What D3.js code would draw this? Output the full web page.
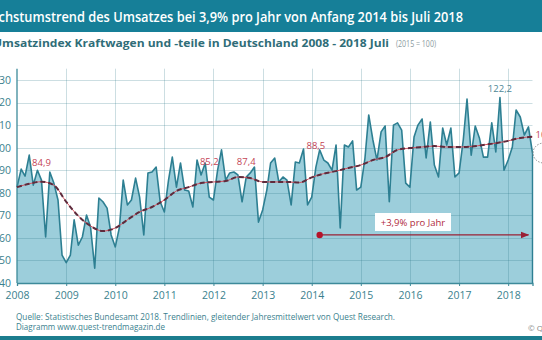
<!DOCTYPE html>
<html>
<head>
<meta charset="utf-8">
<script src="https://cdn.jsdelivr.net/npm/d3@7"></script>
<style>
  body { margin: 0; background: #fff; }
  svg { display: block; font-family: "Open Sans", sans-serif; }
</style>
</head>
<body>
<svg id="chart" width="542" height="340"></svg>
<script>
// Umsatzindex Kraftwagen und -teile, monthly, Jan 2008 - Jul 2018 (2015 = 100)
const startMonth = new Date(2008, 0, 1);
const umsatz = [
  82.5, 90.5, 87.4, 96.7, 83.4, 90.0, 85.6, 60.4, 89.2, 84.3, 76.8, 52.4,   // 2008
  49.0, 52.4, 68.0, 56.8, 60.4, 70.1, 64.8, 46.6, 77.7, 76.0, 73.2, 61.3,   // 2009
  56.0, 64.8, 85.6, 74.6, 76.8, 86.5, 78.1, 61.3, 88.8, 89.2, 91.4, 76.0,   // 2010
  71.5, 85.6, 95.8, 82.5, 93.2, 81.2, 80.8, 73.7, 94.5, 87.9, 93.2, 78.1,   // 2011
  76.8, 90.0, 99.0, 85.6, 88.8, 89.2, 87.9, 76.0, 87.0, 88.8, 91.4, 67.0,   // 2012
  72.4, 81.2, 93.2, 95.4, 84.8, 87.0, 85.6, 74.6, 93.6, 93.2, 99.4, 74.6,   // 2013
  78.1, 91.4, 99.0, 94.5, 93.2, 90.0, 101.2, 64.4, 101.2, 100.3, 103.0, 81.2, // 2014
  82.5, 95.4, 114.5, 103.4, 94.5, 107.0, 109.6, 76.0, 110.0, 111.0, 107.8, 84.3, // 2015
  82.5, 104.7, 110.0, 112.7, 95.4, 111.4, 92.3, 87.0, 108.7, 101.2, 108.7, 87.0, // 2016
  88.8, 103.4, 121.5, 96.7, 109.6, 104.3, 95.8, 95.8, 111.0, 98.1, 122.2, 90.0,  // 2017
  94.5, 100.3, 116.7, 113.6, 105.6, 109.2, 97.6                                  // 2018
];

// gleitender Jahresmittelwert
const trend = [
  82.5, 84.0, 84.9, 83.4,
  76.0, 69.7, 65.3, 63.0,
  64.4, 68.0, 71.5, 73.7,
  76.8, 80.8, 82.5, 84.3,
  84.8, 85.2, 87.0, 86.5,
  84.8, 84.8, 84.8, 84.5,
  86.8, 88.5, 89.6, 91.0,
  92.3, 94.5, 95.8, 99.0,
  99.8, 100.3, 100.7, 100.3,
  100.3, 100.5, 101.2, 102.0,
  103.0, 104.3, 104.8
];

const yTicks = [40, 50, 60, 70, 80, 90, 100, 110, 120, 130];
const yearTicks = d3.range(2008, 2019);

// trend labels: [year, month index, value, text]
const trendLabels = [
  [2008, 6, 84.9, "84,9"],
  [2011, 11, 85.2, "85,2"],
  [2012, 8, 87.4, "87,4"],
  [2014, 1, 88.5, "88,5"]
];
const peakLabel = [2017, 10, 122.2, "122,2"];
const lastLabel = [2018, 6, 104.8, "104,8"];
const growthArrow = { from: [2014, 2], to: [2018, 5], value: 61.3, text: "+3,9% pro Jahr" };

const svg = d3.select("#chart");
const plotLeft = 17, plotRight = 532.5, plotTop = 68.7, plotBottom = 283;

const x = d3.scaleTime()
  .domain([startMonth, new Date(2018, 6, 1)])
  .range([plotLeft, plotRight]);
const y = d3.scaleLinear()
  .domain([40, 135])
  .range([plotBottom, plotTop]);

const data = umsatz.map((v, i) => ({ date: new Date(2008, i, 1), value: v }));
const trendData = trend.map((v, i) => ({ date: new Date(2008, i * 3, 1), value: v }));

// header
svg.append("rect").attr("x", 0).attr("y", 0).attr("width", 542).attr("height", 32)
  .attr("fill", "#167f98");
svg.append("text")
  .attr("x", -21).attr("y", 22)
  .attr("textLength", 484)
  .attr("lengthAdjust", "spacingAndGlyphs")
  .style("font-size", "14.5px")
  .style("font-weight", "600")
  .style("fill", "#fff")
  .text("Wachstumstrend des Umsatzes bei 3,9% pro Jahr von Anfang 2014 bis Juli 2018");

svg.append("text")
  .attr("x", -7).attr("y", 47)
  .attr("textLength", 396)
  .attr("lengthAdjust", "spacingAndGlyphs")
  .style("font-size", "10px")
  .style("font-weight", "700")
  .style("fill", "#2f6d78")
  .text("Umsatzindex Kraftwagen und -teile in Deutschland  2008 - 2018 Juli");
svg.append("text")
  .attr("x", 396).attr("y", 47)
  .attr("textLength", 40)
  .attr("lengthAdjust", "spacingAndGlyphs")
  .style("font-size", "9.5px")
  .style("fill", "#8a9a9e")
  .text("(2015 = 100)");

// area
svg.append("path")
  .datum(data)
  .attr("fill", "#9ccedb")
  .attr("d", d3.area().x(d => x(d.date)).y0(y(40)).y1(d => y(d.value)));

// grid
const grid = svg.append("g").attr("stroke", "rgba(40,115,135,0.24)").attr("stroke-width", 1);
grid.selectAll(".h").data(yTicks.slice(1)).enter().append("line")
  .attr("x1", plotLeft).attr("x2", plotRight)
  .attr("y1", d => Math.round(y(d)) + 0.5).attr("y2", d => Math.round(y(d)) + 0.5);
grid.selectAll(".v").data(yearTicks.slice(1)).enter().append("line")
  .attr("x1", d => Math.round(x(new Date(d, 0, 1))) + 0.5)
  .attr("x2", d => Math.round(x(new Date(d, 0, 1))) + 0.5)
  .attr("y1", plotTop).attr("y2", plotBottom);

// line
svg.append("path")
  .datum(data)
  .attr("fill", "none")
  .attr("stroke", "#2d7f92")
  .attr("stroke-width", 1.6)
  .attr("stroke-linejoin", "round")
  .attr("d", d3.line().x(d => x(d.date)).y(d => y(d.value)));
const last = data[data.length - 1];
svg.append("line")
  .attr("x1", x(last.date)).attr("x2", x(last.date))
  .attr("y1", y(last.value)).attr("y2", plotBottom)
  .attr("stroke", "#2d7f92").attr("stroke-width", 1.4);

// axes
const yAxis = svg.append("g")
  .attr("transform", `translate(${plotLeft},0)`)
  .call(d3.axisLeft(y).tickValues(yTicks).tickSize(0).tickPadding(6));
const xAxis = svg.append("g")
  .attr("transform", `translate(0,${plotBottom})`)
  .call(d3.axisBottom(x).tickValues(yearTicks.map(t => new Date(t, 0, 1)))
    .tickFormat(d3.timeFormat("%Y")).tickSize(3).tickPadding(6));
[yAxis, xAxis].forEach(a => {
  a.select(".domain").attr("stroke", "#3d8a9a").attr("stroke-width", 1.3);
  a.selectAll(".tick line").attr("stroke", "#3d8a9a");
  a.selectAll(".tick text")
    .style("font-size", "10.5px")
    .style("font-family", "'Open Sans', sans-serif")
    .attr("fill", "#3b7f8e");
});
yAxis.select(".domain").attr("d", `M0,${plotTop}V${plotBottom}`);

// trend line
const trendLine = d3.line().x(d => x(d.date)).y(d => y(d.value)).curve(d3.curveMonotoneX);
svg.append("path").datum(trendData)
  .attr("fill", "none").attr("stroke", "#d8505e").attr("stroke-width", 1)
  .attr("d", trendLine);
svg.append("path").datum(trendData)
  .attr("fill", "none").attr("stroke", "#5e2b3c").attr("stroke-width", 2)
  .attr("stroke-dasharray", "5,3")
  .attr("d", trendLine);

const offsets = [19, 19, 14, 28];
trendLabels.forEach((l, i) => {
  svg.append("text")
    .attr("x", x(new Date(l[0], l[1], 1)))
    .attr("y", y(l[2]) - offsets[i] + 3)
    .attr("text-anchor", "middle")
    .style("font-size", "9.5px")
    .style("fill", "#c44455")
    .text(l[3]);
});
svg.append("text")
  .attr("x", x(new Date(peakLabel[0], peakLabel[1], 1)))
  .attr("y", y(peakLabel[2]) - 6)
  .attr("text-anchor", "middle")
  .style("font-size", "9.5px")
  .style("fill", "#4e8796")
  .text(peakLabel[3]);
svg.append("text")
  .attr("x", x(new Date(lastLabel[0], lastLabel[1], 1)) + 3)
  .attr("y", y(lastLabel[2]) + 1)
  .style("font-size", "9.5px")
  .style("fill", "#c44455")
  .text(lastLabel[3]);
svg.append("ellipse")
  .attr("cx", 544).attr("cy", 153).attr("rx", 11).attr("ry", 10)
  .attr("fill", "none").attr("stroke", "#888").attr("stroke-width", 1)
  .attr("stroke-dasharray", "1.5,1.5");

// growth arrow
const ax1 = x(new Date(growthArrow.from[0], growthArrow.from[1], 1));
const ax2 = x(new Date(growthArrow.to[0], growthArrow.to[1], 1));
const ay = y(growthArrow.value);
svg.append("defs").append("marker")
  .attr("id", "arrow").attr("viewBox", "0 0 10 10")
  .attr("refX", 9).attr("refY", 5)
  .attr("markerWidth", 7).attr("markerHeight", 7)
  .attr("orient", "auto")
  .append("path").attr("d", "M0,1L10,5L0,9Z").attr("fill", "#9a2035");
svg.append("line")
  .attr("x1", ax1).attr("x2", ax2).attr("y1", ay).attr("y2", ay)
  .attr("stroke", "#9a2035").attr("stroke-width", 1.2)
  .attr("marker-end", "url(#arrow)");
svg.append("circle").attr("cx", ax1).attr("cy", ay).attr("r", 3.2).attr("fill", "#b5142b");
svg.append("rect")
  .attr("x", 375).attr("y", 213).attr("width", 76).attr("height", 18)
  .attr("fill", "#fff");
svg.append("text")
  .attr("x", 413).attr("y", 225.5)
  .attr("text-anchor", "middle")
  .style("font-size", "9.5px")
  .style("fill", "#b02a3c")
  .text(growthArrow.text);

// footer
svg.append("text")
  .attr("x", 16).attr("y", 320)
  .attr("textLength", 379).attr("lengthAdjust", "spacingAndGlyphs")
  .style("font-size", "8.5px").style("fill", "#3a7f8e")
  .text("Quelle: Statistisches Bundesamt 2018.  Trendlinien, gleitender Jahresmittelwert von Quest Research.");
svg.append("text")
  .attr("x", 16).attr("y", 330)
  .attr("textLength", 149).attr("lengthAdjust", "spacingAndGlyphs")
  .style("font-size", "8.5px").style("fill", "#3a7f8e")
  .text("Diagramm  www.quest-trendmagazin.de");
svg.append("text")
  .attr("x", 528).attr("y", 331)
  .style("font-size", "8px").style("fill", "#888")
  .text("© Quest");
svg.append("rect").attr("x", 0).attr("y", 336).attr("width", 542).attr("height", 4)
  .attr("fill", "#1c7d8e");
</script>
</body>
</html>
